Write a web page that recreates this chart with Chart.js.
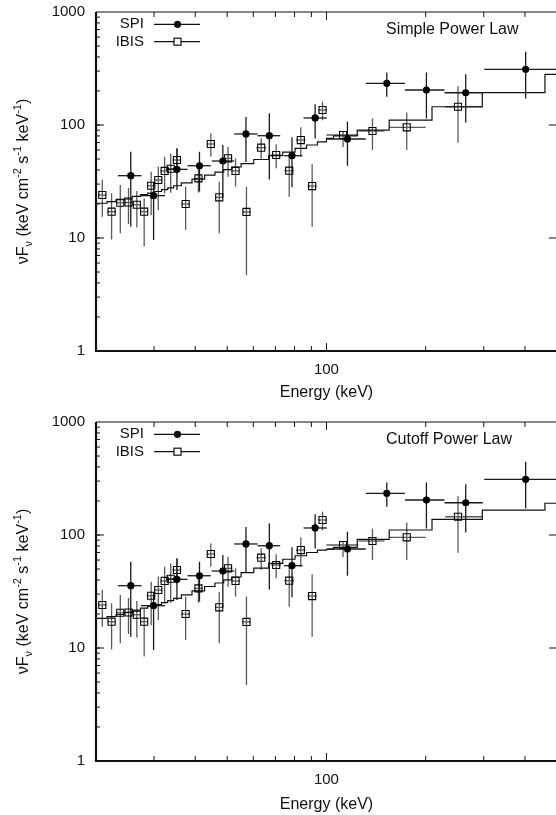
<!DOCTYPE html>
<html>
<head>
<meta charset="utf-8">
<script src="https://cdn.jsdelivr.net/npm/chart.js@4/dist/chart.umd.min.js"></script>
<style>
  html, body { margin: 0; padding: 0; background: #fff; overflow: hidden; }
  #wrap { width: 556px; height: 815px; overflow: hidden; position: relative; }
  .panel { position: absolute; left: 0; width: 563px; }
</style>
</head>
<body>
<div id="wrap">
  <div class="panel" style="top:0; height:400px;"><canvas id="topChart" width="563" height="400"></canvas></div>
  <div class="panel" style="top:400px; height:415px;"><canvas id="bottomChart" width="563" height="415"></canvas></div>
</div>
<script>
// SPI points (keV, keV cm-2 s-1)
const spiE   = [25.5, 29.9, 35.2, 41.2, 48.5, 57.0, 67.1, 78.6, 92.4, 115.8, 152.4, 201, 264.5, 402];
const spiElo = [23.3, 27.4, 32.6, 37.9, 44.9, 52.5, 61.8, 74.4, 85.2, 100.5, 131.6, 173, 228, 301];
const spiEhi = [27.5, 32.4, 37.9, 44.6, 52.5, 61.8, 72.4, 84.6, 100.3, 131.6, 173, 228, 298, 520];
const spiF   = [35.6, 23.7, 40.5, 43.6, 48.0, 83.3, 80.4, 53.5, 115.4, 75.2, 233.9, 204, 193, 311];
const spiFlo = [12.6, 9.6, 26.6, 25.8, 23.1, 47, 33.0, 28.1, 76, 43.6, 178, 114, 105, 172];
const spiFhi = [58, 31, 62, 58, 66.5, 118, 127, 78, 153, 107, 291, 292, 281, 445];

// IBIS points
const ibisE   = [20.9, 22.3, 23.7, 25.1, 26.6, 28.0, 29.4, 30.9, 32.3, 33.7, 35.2, 37.4, 40.9, 44.6, 47.3, 50.3, 53.0, 57.2, 63.4, 70.4, 77.1, 83.6, 90.5, 97.3, 112.3, 137.9, 175.2, 250.6];
const ibisElo = [20.3, 21.6, 23.0, 24.3, 25.8, 27.2, 28.5, 30.0, 31.3, 32.7, 34.1, 36.3, 39.7, 43.3, 45.9, 48.8, 51.4, 55.5, 61.2, 68.0, 74.5, 80.8, 87.5, 94.2, 100, 125, 155, 229];
const ibisEhi = [21.5, 23.0, 24.4, 25.9, 27.4, 28.8, 30.3, 31.8, 33.3, 34.7, 36.3, 38.5, 42.1, 45.9, 48.7, 51.8, 54.6, 58.9, 65.6, 72.8, 79.7, 86.4, 93.5, 100.4, 125, 150, 200, 297];
const ibisF   = [24.0, 17.1, 20.5, 20.6, 19.7, 17.1, 29.0, 32.6, 39.2, 41.0, 49.0, 20.0, 33.7, 67.9, 22.9, 50.7, 39.2, 17.0, 63.0, 54.3, 39.4, 73.6, 28.8, 135.8, 81.6, 88.5, 95.4, 145];
const ibisFlo = [15.4, 9.7, 11.0, 13.3, 12.4, 8.4, 15.9, 17.7, 24.9, 25.2, 37.3, 11.8, 25.2, 52.4, 11.0, 34.8, 28.5, 4.7, 49, 41.4, 23.2, 52.4, 12.6, 110, 64, 60, 60, 69.6];
const ibisFhi = [32.7, 24.9, 29.5, 27.7, 26.1, 22.4, 38.6, 42.9, 52.4, 56, 62.2, 28.5, 45.8, 84.2, 31.5, 64.1, 50.7, 28.5, 76.3, 67.6, 52.4, 95.4, 45, 161, 87, 114, 129, 220];

// model histograms (bin edges, one value per bin)
const modelEdges = [20, 21.6, 23.0, 24.4, 25.8, 27.3, 28.7, 30.1, 31.6, 33.0, 34.4, 36.3, 39.1, 42.7, 45.9, 48.8, 51.6, 55.1, 60.2, 66.8, 73.7, 80.3, 87.0, 93.9, 100, 105, 124, 155, 209, 297, 460, 500];
const modelSimple = [20.3, 21.0, 21.8, 22.6, 23.4, 24.2, 25.0, 25.8, 26.8, 27.8, 29.0, 30.8, 33.2, 36.0, 38.3, 40.3, 42.5, 45.5, 49.5, 53.5, 57.5, 62.0, 66.5, 71.0, 76.0, 80.0, 90.0, 110.5, 145, 193.5, 281];
const modelCutoff = [18.3, 19.0, 19.8, 20.7, 21.6, 22.5, 23.3, 24.2, 25.2, 26.3, 27.5, 29.5, 32.0, 35.0, 37.6, 40.0, 42.5, 46.5, 51.0, 56.0, 61.0, 65.5, 70.0, 73.5, 74.8, 77.8, 91.6, 110.7, 137.6, 166, 191];

const xTicks = [30, 40, 50, 60, 70, 80, 90, 100, 200, 300, 400];
const yLabels = [1, 10, 100, 1000];

const FONT = '"Liberation Sans", Arial, Helvetica, sans-serif';
const INK = "#111";

function line(ctx, x1, y1, x2, y2) {
  ctx.beginPath();
  ctx.moveTo(x1, y1);
  ctx.lineTo(x2, y2);
  ctx.stroke();
}

const errorBars = {
  id: "errorBars",
  beforeDatasetsDraw(chart) {
    const { ctx, chartArea: a, scales: { x, y } } = chart;
    ctx.save();
    ctx.beginPath();
    ctx.rect(a.left, a.top, a.right - a.left, a.bottom - a.top);
    ctx.clip();
    ctx.lineWidth = 1.3;
    const draw = (E, Elo, Ehi, F, Flo, Fhi, color) => {
      ctx.strokeStyle = color;
      for (let i = 0; i < E.length; i++) {
        const px = x.getPixelForValue(E[i]);
        const py = y.getPixelForValue(F[i]);
        line(ctx, x.getPixelForValue(Elo[i]), py, x.getPixelForValue(Ehi[i]), py);
        line(ctx, px, y.getPixelForValue(Flo[i]), px, y.getPixelForValue(Fhi[i]));
      }
    };
    draw(ibisE, ibisElo, ibisEhi, ibisF, ibisFlo, ibisFhi, "#5a5a5a");
    draw(spiE, spiElo, spiEhi, spiF, spiFlo, spiFhi, "#1a1a1a");
    ctx.restore();
  }
};

const frame = {
  id: "frame",
  afterDraw(chart, args, opts) {
    const { ctx, chartArea: a, scales: { x, y } } = chart;
    ctx.save();
    ctx.strokeStyle = INK;
    ctx.lineWidth = 2.2;
    ctx.beginPath();
    ctx.moveTo(a.left, a.top);
    ctx.lineTo(a.left, a.bottom);
    ctx.lineTo(a.right, a.bottom);
    ctx.stroke();
    ctx.lineWidth = 1.2;
    line(ctx, a.left, a.top, a.right, a.top);

    ctx.lineWidth = 1;
    for (const v of xTicks) {
      const px = x.getPixelForValue(v);
      const len = v === 100 ? 8 : 5;
      line(ctx, px, a.bottom, px, a.bottom - len);
      line(ctx, px, a.top, px, a.top + len);
    }
    for (const d of [1, 10, 100]) {
      for (let k = 1; k <= 10; k++) {
        const v = k * d;
        if (v <= 1 || v >= 1000) continue;
        const py = y.getPixelForValue(v);
        const major = k === 10;
        line(ctx, a.left, py, a.left + (major ? 8 : 4), py);
        if (major) line(ctx, a.right, py, a.right - 8, py);
      }
    }

    // legend
    ctx.fillStyle = INK;
    ctx.font = "15px " + FONT;
    ctx.textAlign = "right";
    ctx.textBaseline = "middle";
    const ly1 = a.top + 12.3, ly2 = a.top + 29.7;
    ctx.fillText("SPI", 144, ly1);
    ctx.fillText("IBIS", 144, ly2);
    ctx.lineWidth = 1.2;
    line(ctx, 154, ly1, 200, ly1);
    line(ctx, 154, ly2, 200, ly2);
    ctx.beginPath();
    ctx.arc(177.5, ly1, 3.6, 0, Math.PI * 2);
    ctx.fill();
    ctx.fillStyle = "#fff";
    ctx.fillRect(174, ly2 - 3.5, 7, 7);
    ctx.strokeRect(174, ly2 - 3.5, 7, 7);

    // model name
    ctx.fillStyle = INK;
    ctx.font = "16px " + FONT;
    ctx.textAlign = "left";
    ctx.fillText(opts.model, 386, a.top + 18);

    // y axis title with sub/superscripts
    const parts = [
      ["\u03BDF", 16, 0], ["\u03BD", 11, 4], [" (keV cm", 16, 0], ["-2", 11, -7],
      [" s", 16, 0], ["-1", 11, -7], [" keV", 16, 0], ["-1", 11, -7], [")", 16, 0]
    ];
    let total = 0;
    for (const p of parts) {
      ctx.font = p[1] + "px " + FONT;
      total += ctx.measureText(p[0]).width;
    }
    ctx.translate(28, (a.top + a.bottom) / 2);
    ctx.rotate(-Math.PI / 2);
    ctx.textBaseline = "alphabetic";
    let cx = -total / 2;
    for (const p of parts) {
      ctx.font = p[1] + "px " + FONT;
      ctx.fillText(p[0], cx, p[2]);
      cx += ctx.measureText(p[0]).width;
    }
    ctx.restore();
  }
};

function buildPanel(id, modelVals, modelName, padTop, axisHeight, titlePad) {
  const modelPts = modelEdges.map((e, i) => ({ x: e, y: modelVals[Math.min(i, modelVals.length - 1)] }));
  const config = {
    type: "line",
    data: {
      datasets: [
        {
          label: "SPI",
          data: spiE.map((e, i) => ({ x: e, y: spiF[i] })),
          showLine: false,
          pointStyle: "circle",
          pointRadius: 3.6,
          pointBackgroundColor: "#000",
          pointBorderColor: "#000",
          pointBorderWidth: 0
        },
        {
          label: "IBIS",
          data: ibisE.map((e, i) => ({ x: e, y: ibisF[i] })),
          showLine: false,
          pointStyle: "rect",
          pointRadius: 5,
          pointBackgroundColor: "rgba(0,0,0,0)",
          pointBorderColor: "#000",
          pointBorderWidth: 1.1
        },
        {
          label: "model",
          data: modelPts,
          stepped: "before",
          borderColor: INK,
          borderWidth: 1.2,
          pointRadius: 0,
          fill: false
        }
      ]
    },
    options: {
      responsive: false,
      animation: false,
      events: [],
      layout: { padding: { top: padTop, right: 1, bottom: 0, left: 0 } },
      plugins: {
        legend: { display: false },
        tooltip: { enabled: false },
        frame: { model: modelName }
      },
      scales: {
        x: {
          type: "logarithmic",
          min: 20,
          max: 500,
          grid: { display: false, drawTicks: false },
          border: { display: false },
          ticks: {
            autoSkip: false,
            maxRotation: 0,
            padding: 10,
            color: INK,
            font: { family: FONT, size: 15 },
            callback: v => (v === 100 ? "100" : "")
          },
          title: {
            display: true,
            text: "Energy (keV)",
            color: INK,
            font: { family: FONT, size: 16 },
            padding: { top: 0, bottom: titlePad }
          },
          afterFit: s => {
            s.height = axisHeight;
            s.paddingLeft = 0;
            s.paddingRight = 0;
          }
        },
        y: {
          type: "logarithmic",
          min: 1,
          max: 1000,
          grid: { display: false, drawTicks: false },
          border: { display: false },
          ticks: {
            autoSkip: false,
            padding: 11,
            color: INK,
            font: { family: FONT, size: 15 },
            callback: v => (yLabels.includes(v) ? String(v) : "")
          },
          afterFit: s => {
            s.width = 96;
            s.paddingTop = 0;
            s.paddingBottom = 0;
          }
        }
      }
    },
    plugins: [errorBars, frame]
  };
  new Chart(document.getElementById(id), config);
}

buildPanel("topChart", modelSimple, "Simple Power Law", 12, 49, -2);
buildPanel("bottomChart", modelCutoff, "Cutoff Power Law", 22, 54, 1);
</script>
</body>
</html>
